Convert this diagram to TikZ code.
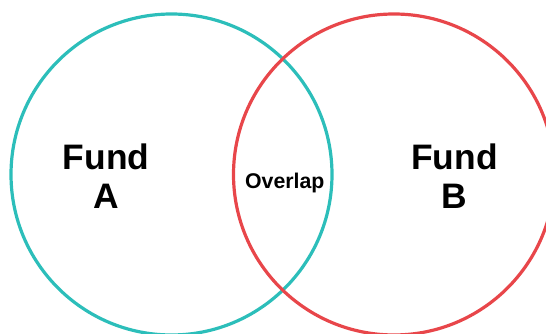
\documentclass[tikz,border=0pt]{standalone}
\usepackage{fontspec}
\setmainfont{Liberation Sans}
\usepackage{xcolor}
\usepackage{tikz}

\definecolor{fundTeal}{RGB}{44,190,186}
\definecolor{fundRed}{RGB}{232,70,74}

\begin{document}
\begin{tikzpicture}[
        x=1pt, y=1pt,
        fundCircle/.style={circle, line width=3.2pt, minimum size=321pt, inner sep=0pt},
        fundLabel/.style={align=center, font=\fontsize{35.4}{39}\selectfont\bfseries, inner sep=0pt},
        overlapLabel/.style={font=\fontsize{21.3}{24}\selectfont\bfseries, inner sep=0pt}
    ]
        \useasboundingbox (0,0) rectangle (546,334);

        % ========== CIRCLES ==========
        \node[fundCircle, draw=fundTeal] (circleA) at (171.5,159.5) {};
        \node[fundCircle, draw=fundRed] (circleB) at (394,159.5) {};

        % ========== LABELS ==========
        \node[fundLabel, anchor=base] (labelA) at (106,125) {Fund\\A};
        \node[fundLabel, anchor=base] (labelB) at (454.5,125) {Fund\\B};
        \node[overlapLabel, anchor=base] (overlap) at (284.8,145.5) {Overlap};

    \end{tikzpicture}
\end{document}
